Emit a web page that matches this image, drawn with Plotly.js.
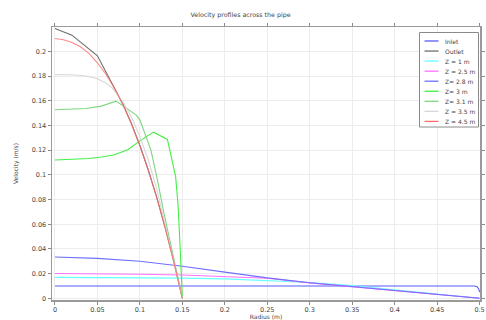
<!DOCTYPE html>
<html>
<head>
<meta charset="utf-8">
<script src="https://cdn.plot.ly/plotly-3.0.1.min.js"></script>
<style>
  html, body { margin: 0; padding: 0; background: #fff; }
  #chart { width: 486px; height: 320px; }
</style>
</head>
<body>
<div id="chart"></div>
<script>
// ---------------- data ----------------
const seriesNames = ['Inlet', 'Outlet', 'Z = 1 m', 'Z = 2.5 m', 'Z= 2.8 m', 'Z= 3 m', 'Z= 3.1 m', 'Z = 3.5 m', 'Z = 4.5 m'];
const seriesColors = ['#5a5aff', '#6e6e6e', '#66ffff', '#ff70ff', '#6f6fff', '#44ee44', '#7fd67f', '#d8d8d8', '#ff6a6a'];

const inletR  = [0, 0.1, 0.2, 0.3, 0.4, 0.494, 0.497, 0.499, 0.5];
const inletV  = [0.01, 0.01, 0.01, 0.01, 0.01, 0.01, 0.0093, 0.0075, 0.005];

const outletR = [0, 0.02, 0.05, 0.06, 0.07, 0.08, 0.09, 0.1, 0.11, 0.12, 0.13, 0.14, 0.15];
const outletV = [0.2185, 0.2132, 0.1965, 0.1835, 0.1707, 0.1572, 0.1416, 0.1238, 0.1037, 0.0814, 0.0567, 0.0296, 0];

const z1R  = [0, 0.05, 0.1, 0.15, 0.2, 0.25, 0.3, 0.35, 0.4, 0.45, 0.5];
const z1V  = [0.0169, 0.0168, 0.0166, 0.0163, 0.0157, 0.0145, 0.0128, 0.0103, 0.0070, 0.0036, 0];

const z25R = [0, 0.05, 0.1, 0.15, 0.2, 0.25, 0.3, 0.35, 0.4, 0.45, 0.5];
const z25V = [0.0201, 0.0199, 0.0195, 0.0188, 0.0177, 0.0162, 0.0125, 0.0095, 0.0064, 0.0032, 0];

const z28R = [0, 0.025, 0.05, 0.1, 0.15, 0.2, 0.25, 0.3, 0.35, 0.4, 0.45, 0.5];
const z28V = [0.0335, 0.0331, 0.0323, 0.0300, 0.0260, 0.0212, 0.0165, 0.0126, 0.0093, 0.0062, 0.0031, 0];

const z3R  = [0, 0.02, 0.04, 0.055, 0.07, 0.0857, 0.1, 0.116, 0.1324, 0.1421, 0.145, 0.1475, 0.15];
const z3V  = [0.112, 0.1123, 0.1132, 0.1145, 0.1163, 0.1203, 0.1275, 0.1346, 0.1287, 0.0985, 0.075, 0.04, 0];

const z31R = [0, 0.02, 0.037, 0.0545, 0.072, 0.0958, 0.1001, 0.113, 0.1207, 0.128, 0.15];
const z31V = [0.1527, 0.153, 0.1538, 0.1557, 0.1597, 0.1484, 0.1444, 0.12, 0.0958, 0.07, 0];

const z35R = [0, 0.02, 0.035, 0.049, 0.06, 0.068, 0.08, 0.09, 0.1, 0.11, 0.12, 0.13, 0.14, 0.15];
const z35V = [0.1812, 0.1811, 0.1803, 0.178, 0.1745, 0.170, 0.159, 0.147, 0.131, 0.112, 0.088, 0.059, 0.03, 0];

const z45R = [0, 0.01, 0.02, 0.03, 0.04, 0.05, 0.06, 0.07, 0.08, 0.09, 0.1, 0.11, 0.12, 0.13, 0.14, 0.15];
const z45V = [0.2105, 0.2095, 0.2073, 0.2038, 0.1984, 0.1908, 0.1815, 0.1704, 0.1570, 0.1414, 0.1236, 0.1035, 0.0812, 0.0565, 0.0294, 0];

const xTickVals = [0, 0.05, 0.1, 0.15, 0.2, 0.25, 0.3, 0.35, 0.4, 0.45, 0.5];
const xTickText = ['0', '0.05', '0.1', '0.15', '0.2', '0.25', '0.3', '0.35', '0.4', '0.45', '0.5'];
const yTickVals = [0, 0.02, 0.04, 0.06, 0.08, 0.1, 0.12, 0.14, 0.16, 0.18, 0.2];
const yTickText = ['0', '0.02', '0.04', '0.06', '0.08', '0.1', '0.12', '0.14', '0.16', '0.18', '0.2'];

const chartTitle = 'Velocity profiles across the pipe';
const xTitle = 'Radius (m)';
const yTitle = 'Velocity (m/s)';

// ---------------- build traces ----------------
const xs = [inletR, outletR, z1R, z25R, z28R, z3R, z31R, z35R, z45R];
const ys = [inletV, outletV, z1V, z25V, z28V, z3V, z31V, z35V, z45V];
const opac = [1, 1, 1, 1, 1, 1, 1, 1, 0.8];

const traces = xs.map((x, i) => ({
  type: 'scatter',
  mode: 'lines',
  x: x,
  y: ys[i],
  name: seriesNames[i],
  line: { color: seriesColors[i], width: 1.1 },
  opacity: opac[i],
  showlegend: false,
  hoverinfo: 'skip'
}));

// ---------------- layout ----------------
const W = 486, H = 320;
const M = { l: 52, r: 6, t: 27, b: 20 };
const pw = W - M.l - M.r, ph = H - M.t - M.b;
const px2x = px => (px - M.l) / pw;
const py2y = py => (H - M.b - py) / ph;

const font = 'DejaVu Sans, Arial, sans-serif';
const textColor = '#444444';

// custom compact legend (COMSOL-like)
const legBox = { x0: 419.5, x1: 478.5, y0: 32.5, y1: 127 };
const legRow0 = 41, legRowGap = 10.05;
const shapes = [{
  type: 'rect', xref: 'paper', yref: 'paper', layer: 'above',
  x0: px2x(legBox.x0), x1: px2x(legBox.x1), y0: py2y(legBox.y1), y1: py2y(legBox.y0),
  line: { color: '#8a8a8a', width: 1 }, fillcolor: '#ffffff'
}];
const annotations = [];
seriesNames.forEach((nm, i) => {
  const py = legRow0 + i * legRowGap;
  shapes.push({
    type: 'line', xref: 'paper', yref: 'paper', layer: 'above',
    x0: px2x(legBox.x0 + 5), x1: px2x(legBox.x0 + 19), y0: py2y(py), y1: py2y(py),
    line: { color: seriesColors[i], width: 1.3 }
  });
  annotations.push({
    xref: 'paper', yref: 'paper', x: px2x(legBox.x0 + 23), y: py2y(py),
    xanchor: 'left', yanchor: 'middle', showarrow: false,
    text: nm, font: { family: font, size: 6, color: textColor }
  });
});

const axisCommon = {
  showline: true, mirror: 'ticks', linecolor: '#9a9a9a', linewidth: 1.5,
  ticks: 'outside', ticklen: 3, tickcolor: '#8a8a8a', tickwidth: 1,
  showgrid: true, gridcolor: '#ececec', gridwidth: 1,
  zeroline: false, tickmode: 'array', ticklabeloverflow: 'allow',
  tickfont: { family: font, size: 6.5, color: textColor }
};

const layout = {
  width: W, height: H,
  margin: M,
  paper_bgcolor: '#fff', plot_bgcolor: '#fff',
  showlegend: false,
  title: {
    text: chartTitle, xref: 'container', yref: 'container',
    x: 0.495, xanchor: 'center', y: 1 - 15 / H, yanchor: 'middle',
    font: { family: font, size: 6.3, color: textColor }
  },
  xaxis: Object.assign({}, axisCommon, {
    range: [-0.0035, 0.5005],
    tickvals: xTickVals, ticktext: xTickText,
    title: { text: xTitle, standoff: 2, font: { family: font, size: 6, color: textColor } }
  }),
  yaxis: Object.assign({}, axisCommon, {
    range: [-0.0014, 0.2198],
    tickvals: yTickVals, ticktext: yTickText,
    title: { text: yTitle, standoff: 12, font: { family: font, size: 6, color: textColor } }
  }),
  shapes: shapes,
  annotations: annotations
};

Plotly.newPlot('chart', traces, layout, { displayModeBar: false, staticPlot: true });
</script>
</body>
</html>
